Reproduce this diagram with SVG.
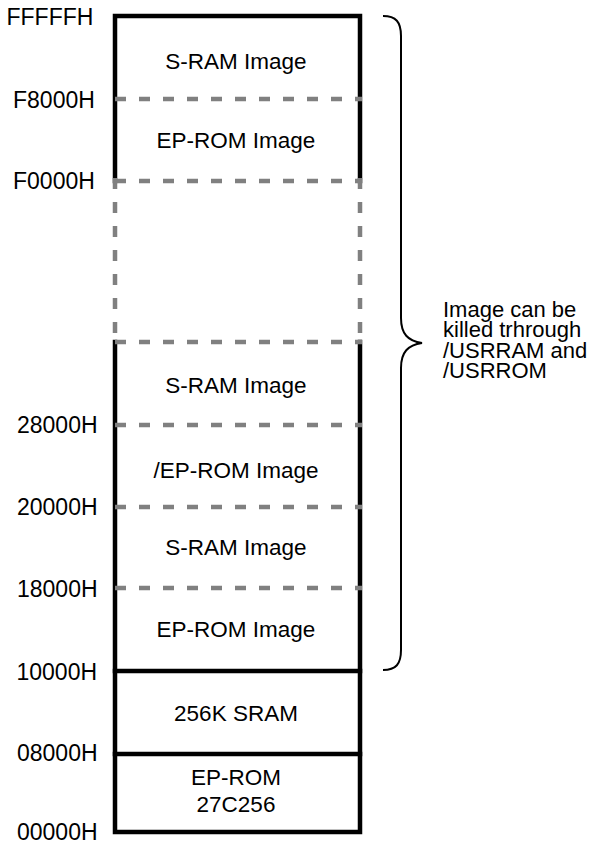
<svg xmlns="http://www.w3.org/2000/svg" width="590" height="846" viewBox="0 0 590 846">
<style>
text{font-family:"Liberation Sans",Arial,sans-serif;fill:#000}
.lbl{font-size:23px}
.box{font-size:22.5px;text-anchor:middle}
.note{font-size:22px}
.solid{fill:none;stroke:#000;stroke-width:4.5;stroke-linecap:square;stroke-linejoin:miter}
.dash{fill:none;stroke:#808080;stroke-width:4.5;stroke-dasharray:11 13}
.brace{fill:none;stroke:#000;stroke-width:2}
</style>
<rect width="590" height="846" fill="#fff"/>
<g id="frame">
<path class="solid" d="M115,181 V16 H360 V181"/>
<path class="solid" d="M115,342 V832 H360 V342"/>
<path class="solid" d="M115,671 H360"/>
<path class="solid" d="M115,754 H360"/>
</g>
<g id="dividers">
<path class="dash" d="M115,99 H362"/>
<path class="dash" d="M115,181 H362"/>
<path class="dash" d="M115,178 V342"/>
<path class="dash" d="M360,178 V342"/>
<path class="dash" d="M115,342 H362"/>
<path class="dash" d="M115,425 H362"/>
<path class="dash" d="M115,507 H362"/>
<path class="dash" d="M115,588 H362"/>
</g>
<g id="labels">
<text class="lbl" x="6.5" y="25">FFFFFH</text>
<text class="lbl" x="13" y="108">F8000H</text>
<text class="lbl" x="13" y="189">F0000H</text>
<text class="lbl" x="17" y="433">28000H</text>
<text class="lbl" x="17" y="515">20000H</text>
<text class="lbl" x="17" y="597">18000H</text>
<text class="lbl" x="16.5" y="680">10000H</text>
<text class="lbl" x="17" y="761">08000H</text>
<text class="lbl" x="17" y="840">00000H</text>
</g>
<g id="n-sram-img-hi"><text class="box" x="236" y="69">S-RAM Image</text></g>
<g id="n-eprom-img-hi"><text class="box" x="236" y="148">EP-ROM Image</text></g>
<g id="n-sram-img-1"><text class="box" x="236" y="393">S-RAM Image</text></g>
<g id="n-neprom-img"><text class="box" x="236" y="478">/EP-ROM Image</text></g>
<g id="n-sram-img-2"><text class="box" x="236" y="555">S-RAM Image</text></g>
<g id="n-eprom-img"><text class="box" x="236" y="637">EP-ROM Image</text></g>
<g id="n-sram"><text class="box" x="236" y="721">256K SRAM</text></g>
<g id="n-eprom"><text class="box" x="236" y="785">EP-ROM</text><text class="box" x="236" y="812">27C256</text></g>
<g id="note">
<path class="brace" d="M383,16 C396,16 401,22 401,36 V318 C401,334 408,341 422,343 C408,345 401,352 401,368 V650 C401,664 396,670 383,670"/>
<text class="note" x="443" y="317">Image can be</text>
<text class="note" x="443" y="337">killed trhrough</text>
<text class="note" x="443" y="358">/USRRAM and</text>
<text class="note" x="443" y="378">/USRROM</text>
</g>
</svg>
